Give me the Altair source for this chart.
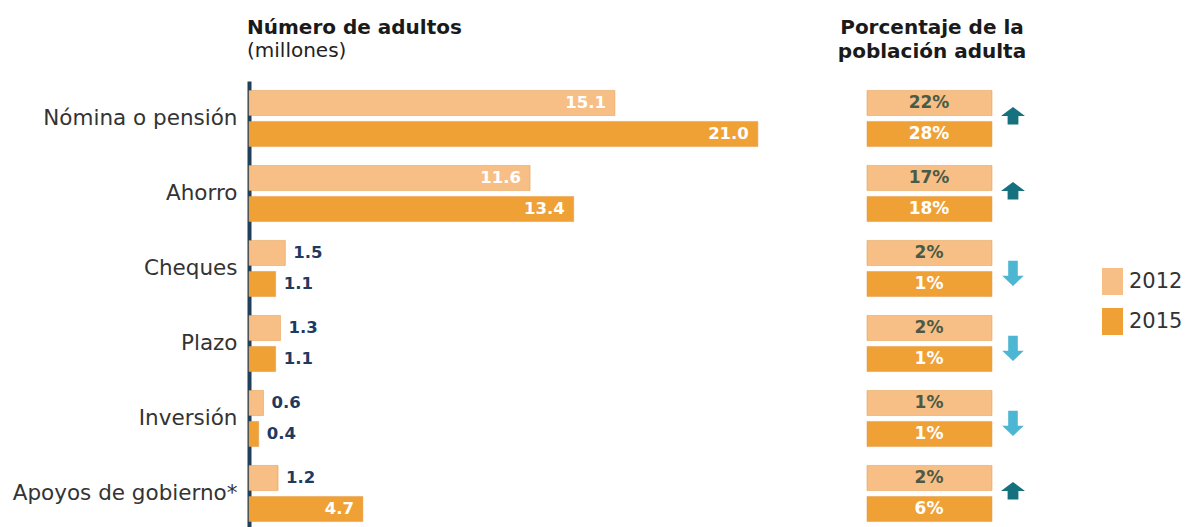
import altair as alt
import pandas as pd

# ---------------- data ----------------
categories = ["Nómina o pensión", "Ahorro", "Cheques", "Plazo", "Inversión", "Apoyos de gobierno*"]
years = ["2012", "2015"]
adults_2012 = [15.1, 11.6, 1.5, 1.3, 0.6, 1.2]   # millones
adults_2015 = [21.0, 13.4, 1.1, 1.1, 0.4, 4.7]
pct_2012 = [22, 17, 2, 2, 1, 2]                 # % población adulta
pct_2015 = [28, 18, 1, 1, 1, 6]
trend = ["up", "up", "down", "down", "down", "up"]
left_title = "Número de adultos"
left_subtitle = "(millones)"
right_title_text = "Porcentaje de la\npoblación adulta"

rows = []
for i, c in enumerate(categories):
    rows.append(dict(cat=c, year="2012", adults=adults_2012[i], pct=pct_2012[i]))
    rows.append(dict(cat=c, year="2015", adults=adults_2015[i], pct=pct_2015[i]))
df = pd.DataFrame(rows)
df["adults_label"] = df["adults"].map(lambda v: f"{v:.1f}")
df["pct_label"] = df["pct"].astype(str) + "%"
df["inside"] = df["adults"] > 3
arrows = pd.DataFrame({"cat": categories, "trend": trend})

# ---------------- styles ----------------
C12 = "#F7BF86"
C15 = "#F0A135"
FONT = "DejaVu Sans"
NAVY = "#1F3A5F"
UP_PATH = "M0,-0.95 L1,-0.2 L0.45,-0.2 L0.45,0.5 L-0.45,0.5 L-0.45,-0.2 L-1,-0.2 Z"
DOWN_PATH = "M-0.4,-0.64 L0.4,-0.64 L0.4,0.6 L0.9,0.6 L0,1.45 L-0.9,0.6 L-0.4,0.6 Z"
RECT_PATH = "M-0.78,-1 L0.78,-1 L0.78,1 L-0.78,1 Z"

y_enc = alt.Y(
    "cat:N", sort=categories,
    scale=alt.Scale(range=[0, 450], paddingInner=0, paddingOuter=0),
    axis=alt.Axis(title=None, ticks=False, tickSize=0, grid=False, domainColor="#1F3F5A",
                  domainWidth=4, labelFont=FONT, labelFontSize=21.5, labelColor="#333333",
                  labelPadding=12, labelLimit=400),
)
yoff = alt.YOffset("year:N", scale=alt.Scale(domain=years, paddingInner=0.19, paddingOuter=0.305))
x_scale = alt.Scale(domain=[0, 39], nice=False, zero=True)
x_enc = alt.X("adults:Q", scale=x_scale, axis=None)
color_enc = alt.Color(
    "year:N", scale=alt.Scale(domain=years, range=[C12, C15]),
    legend=alt.Legend(orient="none", legendX=850, legendY=187, title=None,
                      symbolType=RECT_PATH, symbolSize=729, symbolStrokeWidth=0,
                      labelFont=FONT, labelFontSize=21, labelColor="#333333",
                      rowPadding=13, labelOffset=3, padding=0),
)

base = alt.Chart(df).encode(y=y_enc, yOffset=yoff)

bars = base.mark_bar(strokeWidth=1, stroke="#E39A45", strokeOpacity=0.5).encode(
    x=x_enc, color=color_enc
)

lab_in = base.transform_filter("datum.inside").mark_text(
    align="right", baseline="middle", dx=-9, font=FONT, fontWeight="bold",
    fontSize=16.5, color="white"
).encode(x=x_enc, text="adults_label:N")

lab_out = base.transform_filter("!datum.inside").mark_text(
    align="left", baseline="middle", dx=8, font=FONT, fontWeight="bold",
    fontSize=16.5, color=NAVY
).encode(x=x_enc, text="adults_label:N")

boxes = base.mark_bar(strokeWidth=1, stroke="#E39A45", strokeOpacity=0.5).encode(
    x=alt.value(618), x2=alt.value(743), color=color_enc
)

pct12 = base.transform_filter("datum.year == '2012'").mark_text(
    align="center", baseline="middle", font=FONT, fontWeight="bold", fontSize=17,
    color="#4A5A48"
).encode(x=alt.value(680), text="pct_label:N")

pct15 = base.transform_filter("datum.year == '2015'").mark_text(
    align="center", baseline="middle", font=FONT, fontWeight="bold", fontSize=17,
    color="white"
).encode(x=alt.value(680), text="pct_label:N")

arr_base = alt.Chart(arrows).encode(y=y_enc, x=alt.value(764))
arr_up = arr_base.transform_filter("datum.trend == 'up'").mark_point(
    shape=UP_PATH, size=576, filled=True, opacity=1, color="#16717E"
)
arr_down = arr_base.transform_filter("datum.trend == 'down'").mark_point(
    shape=DOWN_PATH, size=576, filled=True, opacity=1, color="#4DB6D3"
)

t_left = alt.Chart(pd.DataFrame({"t": [left_title]})).mark_text(
    align="left", baseline="alphabetic", font=FONT, fontWeight="bold", fontSize=20,
    color="#1a1a1a"
).encode(x=alt.value(-2), y=alt.value(-47), text="t:N")
t_left_sub = alt.Chart(pd.DataFrame({"t": [left_subtitle]})).mark_text(
    align="left", baseline="alphabetic", font=FONT, fontSize=20, color="#222222"
).encode(x=alt.value(-2), y=alt.value(-24), text="t:N")
t_right = alt.Chart(pd.DataFrame({"t": [right_title_text]})).mark_text(
    align="center", baseline="alphabetic", font=FONT, fontWeight="bold", fontSize=20,
    color="#1a1a1a", lineBreak="\n", lineHeight=24
).encode(x=alt.value(683), y=alt.value(-47), text="t:N")

chart = alt.layer(
    bars, lab_in, lab_out, boxes, pct12, pct15, arr_up, arr_down, t_left, t_left_sub, t_right
).properties(
    width=945, height=446,
    background="white",
    autosize=alt.AutoSizeParams(type="none"),
    padding={"left": 249, "top": 81, "right": 0, "bottom": 0},
).configure_view(strokeWidth=0, stroke="transparent")

chart.save("out.html", embed_options={"renderer": "svg", "actions": False})
